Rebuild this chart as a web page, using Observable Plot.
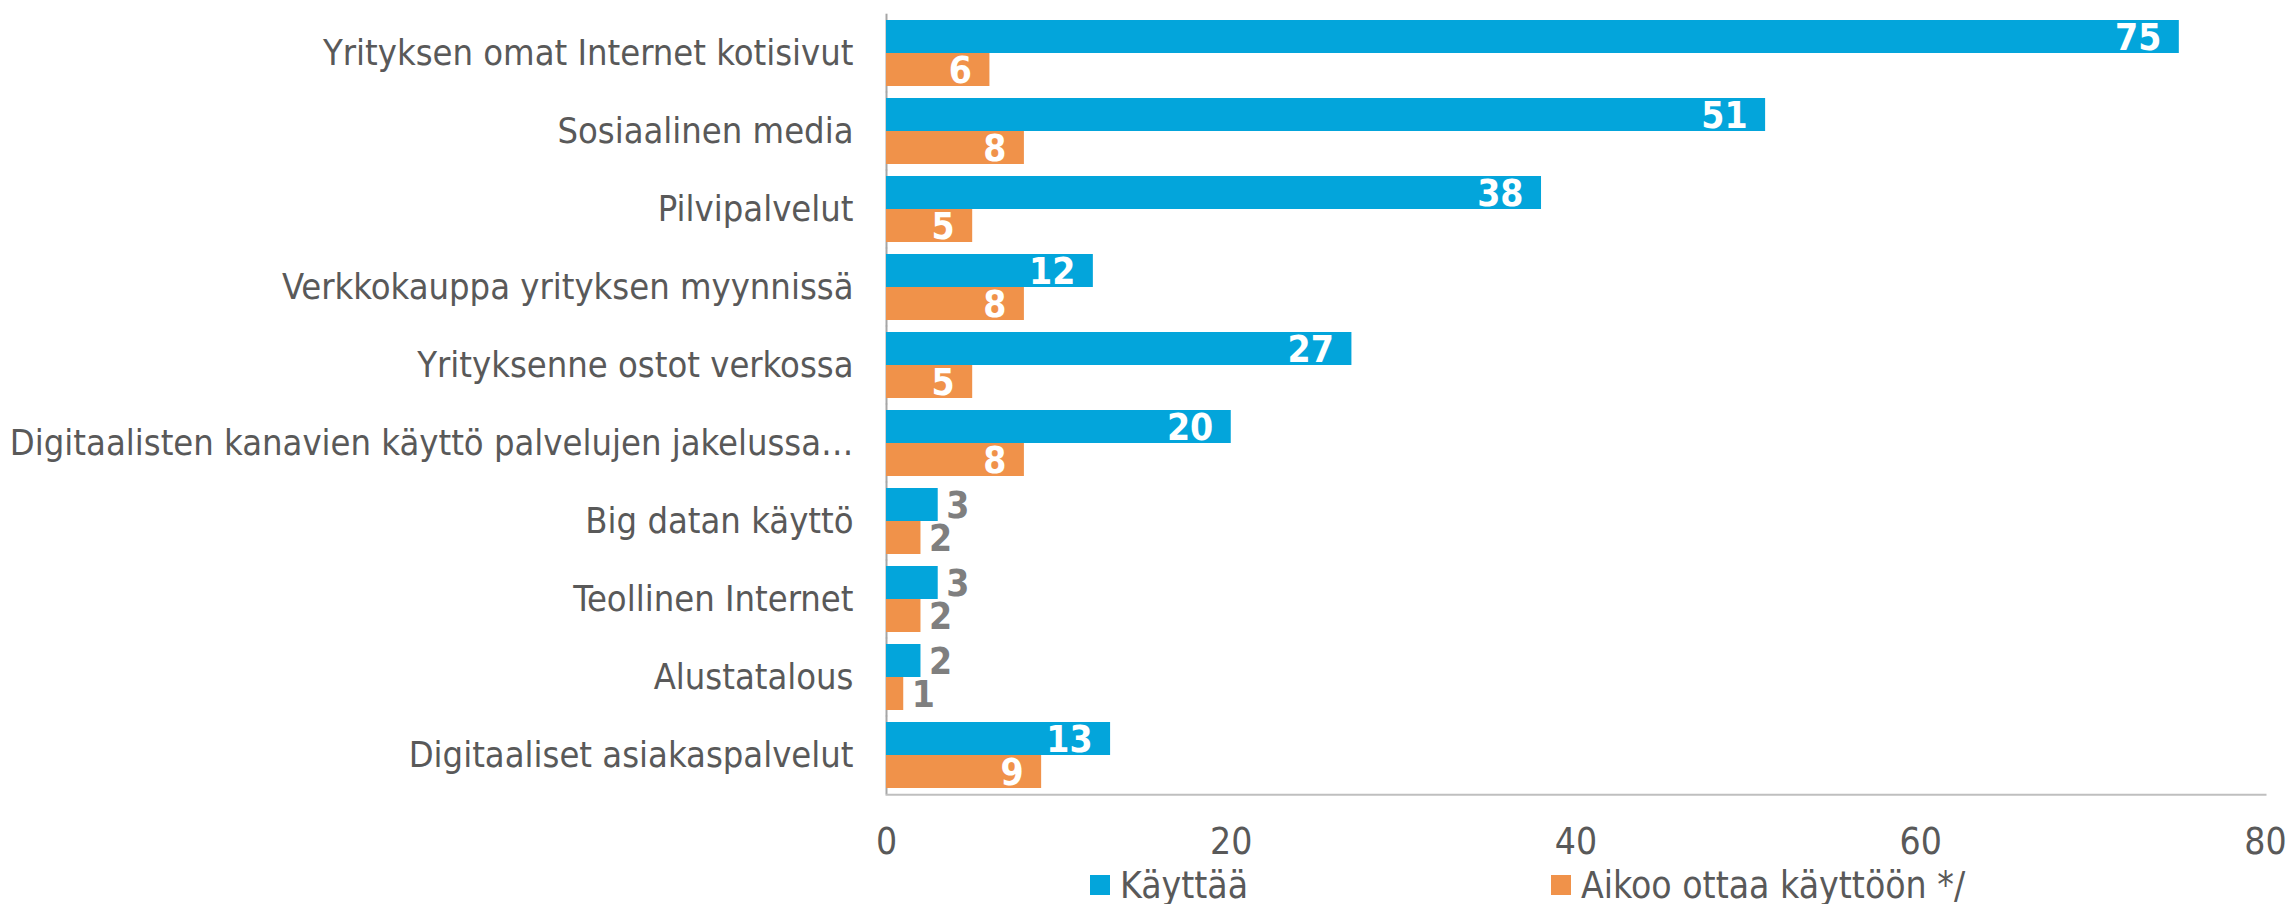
<!DOCTYPE html>
<html><head><meta charset="utf-8">
<script src="https://cdn.jsdelivr.net/npm/d3@7"></script>
<script src="https://cdn.jsdelivr.net/npm/@observablehq/plot@0.6"></script>
<style>
body{margin:0;background:#fff;}
#chart{width:2289px;}
.legend{position:relative;width:2289px;height:38px;font-family:"DejaVu Sans Condensed","DejaVu Sans",sans-serif;font-size:37px;color:#595959;}
.item{position:absolute;top:0;display:flex;align-items:center;height:38px;white-space:nowrap;}
.sw{width:20px;height:20px;margin-right:10px;}
</style></head><body>
<div id="chart"></div>
<script>
const categories = [
  "Yrityksen omat Internet kotisivut",
  "Sosiaalinen media",
  "Pilvipalvelut",
  "Verkkokauppa yrityksen myynnissä",
  "Yrityksenne ostot verkossa",
  "Digitaalisten kanavien käyttö palvelujen jakelussa…",
  "Big datan käyttö",
  "Teollinen Internet",
  "Alustatalous",
  "Digitaaliset asiakaspalvelut"
];
const seriesNames = ["Käyttää", "Aikoo ottaa käyttöön */"];
const kayttaa = [75, 51, 38, 12, 27, 20, 3, 3, 2, 13];
const aikoo = [6, 8, 5, 8, 5, 8, 2, 2, 1, 9];
const xTicks = [0, 20, 40, 60, 80];
const colors = ["#03A5DB", "#F0924A"];
const legendLeft = [1090, 1551];

const rows = categories.flatMap((c, i) => [
  {category: c, series: seriesNames[0], value: kayttaa[i]},
  {category: c, series: seriesNames[1], value: aikoo[i]}
]);
const inside = rows.filter(d => d.value >= 5);
const outside = rows.filter(d => d.value < 5);
const font = '"DejaVu Sans Condensed","DejaVu Sans",sans-serif';

const plot = Plot.plot({
  width: 2289, height: 866,
  marginLeft: 886, marginRight: 24, marginTop: 11, marginBottom: 70,
  style: {fontFamily: font, fontSize: "37px", color: "#595959", background: "#fff", overflow: "visible"},
  x: {domain: [0, 80]},
  fy: {domain: categories, paddingInner: 0.16, paddingOuter: 0.08, label: null},
  y: {domain: seriesNames, padding: 0, axis: null},
  color: {domain: seriesNames, range: colors},
  marks: [
    Plot.ruleX([0], {stroke: "#a6a6a6", strokeWidth: 2, insetTop: -6.3, insetBottom: -6.3}),
    Plot.frame({anchor: "bottom", facetAnchor: "bottom", stroke: "#bfbfbf", strokeWidth: 2, insetBottom: -6.3}),
    Plot.barX(rows, {fy: "category", y: "series", x: "value", fill: "series"}),
    Plot.text(inside, {fy: "category", y: "series", x: "value", text: d => String(d.value),
      textAnchor: "end", dx: -18, dy: 1, fill: "white", fontWeight: "bold", fontSize: 37}),
    Plot.text(outside, {fy: "category", y: "series", x: "value", text: d => String(d.value),
      textAnchor: "start", dx: 8, dy: 1, fill: "#7f7f7f", fontWeight: "bold", fontSize: 37}),
    Plot.axisX({ticks: xTicks, tickSize: 0, tickPadding: 39, fontSize: 37, fill: "#595959", label: null}),
    Plot.axisFy({anchor: "left", tickSize: 0, tickPadding: 33, fontSize: 36, fill: "#595959", label: null})
  ]
});
document.getElementById("chart").appendChild(plot);

const legend = document.createElement("div");
legend.className = "legend";
seriesNames.forEach((s, i) => {
  const item = document.createElement("div");
  item.className = "item";
  item.style.left = legendLeft[i] + "px";
  const sw = document.createElement("span");
  sw.className = "sw";
  sw.style.background = colors[i];
  const t = document.createElement("span");
  t.textContent = s;
  item.appendChild(sw);
  item.appendChild(t);
  legend.appendChild(item);
});
document.body.appendChild(legend);
</script>
</body></html>
